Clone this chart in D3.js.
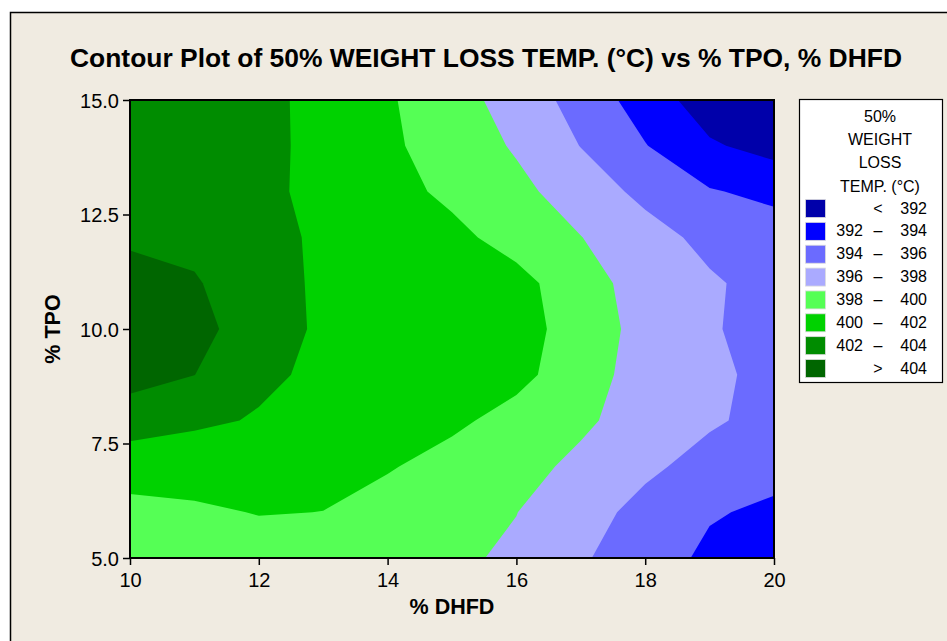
<!DOCTYPE html>
<html>
<head>
<meta charset="utf-8">
<script src="https://cdn.jsdelivr.net/npm/d3@7"></script>
<style>
  html, body { margin: 0; padding: 0; background: #ffffff; }
  svg { display: block; }
  text { font-family: "Liberation Sans", Arial, sans-serif; fill: #000; }
</style>
</head>
<body>
<svg id="chart" width="947" height="641"></svg>
<script>
// % DHFD grid columns and % TPO grid rows (top row first)
const dhfd = [10, 11, 12, 13, 14, 15, 16, 17, 18, 19, 20];
const tpo  = [15, 14, 13, 12, 11, 10, 9, 8, 7, 6, 5];

// 50% weight loss temperature (°C) on the grid, one row per TPO level
const tempTPO15 = [403.3, 403.0, 402.5, 401.46, 400.22, 398.8, 397.17, 395.24, 393.09, 390.95, 390.0];
const tempTPO14 = [403.4, 403.1, 402.55, 401.44, 400.33, 399.12, 397.79, 395.95, 394.08, 392.24, 391.3];
const tempTPO13 = [403.6, 403.3, 402.45, 401.5, 400.6, 399.63, 398.5, 397.06, 395.5, 394.15, 393.5];
const tempTPO12 = [403.8, 403.5, 402.6, 401.7, 401.01, 400.45, 399.33, 398.04, 396.76, 395.47, 395.0];
const tempTPO11 = [404.5, 404.17, 402.87, 401.65, 401.2, 400.75, 400.55, 399.0, 397.0, 396.25, 395.3];
const tempTPO10 = [404.9, 404.5, 403.2, 401.6, 401.15, 400.75, 400.45, 399.5, 397.1, 396.1, 395.6];
const tempTPO9  = [404.7, 404.02, 402.4, 401.6, 401.15, 400.7, 400.4, 399.2, 396.87, 396.3, 395.6];
const tempTPO8  = [403.0, 402.4, 401.83, 401.32, 400.81, 400.29, 399.49, 398.3, 397.23, 396.21, 395.5];
const tempTPO7  = [400.78, 400.6, 400.45, 400.3, 400.12, 399.45, 398.57, 397.62, 396.34, 395.38, 394.53];
const tempTPO6  = [399.48, 399.8, 400.05, 399.99, 399.39, 398.71, 398.03, 396.71, 395.45, 394.15, 393.7];
const tempTPO5  = [398.9, 399.3, 399.4, 399.4, 398.86, 398.32, 397.7, 396.24, 394.84, 393.65, 392.8];

// Contour levels, legend rows (low to high) and band colours
const levels = [392, 394, 396, 398, 400, 402, 404];
const bandLow  = ["", "392", "394", "396", "398", "400", "402", ""];
const bandSign = ["<", "–", "–", "–", "–", "–", "–", ">"];
const bandHigh = ["392", "394", "396", "398", "400", "402", "404", "404"];
const bandColors = ["#0000aa", "#0000ff", "#6b6bff", "#aaaaff", "#55ff55", "#00d200", "#008c00", "#006600"];

const xTicks = [10, 12, 14, 16, 18, 20];
const yTicks = [5, 7.5, 10, 12.5, 15];

const title = "Contour Plot of 50% WEIGHT LOSS TEMP. (°C) vs % TPO, % DHFD";
const legendTitle = ["50%", "WEIGHT", "LOSS", "TEMP. (°C)"];

const svg = d3.select("#chart");

// Figure panel
svg.append("rect").attr("x", 10).attr("y", 12).attr("width", 947).attr("height", 641)
  .attr("fill", "#f0ebe1");
svg.append("path").attr("d", "M10.5,641V12.5H947").attr("fill", "none")
  .attr("stroke", "#000").attr("stroke-width", 1.5);

const plot = { left: 130, right: 774, top: 100, bottom: 558 };
const x = d3.scaleLinear().domain([10, 20]).range([plot.left, plot.right]);
const y = d3.scaleLinear().domain([5, 15]).range([plot.bottom, plot.top]);

// Filled contour bands
const values = [tempTPO15, tempTPO14, tempTPO13, tempTPO12, tempTPO11, tempTPO10,
                tempTPO9, tempTPO8, tempTPO7, tempTPO6, tempTPO5].flat();
const contours = d3.contours().size([dhfd.length, tpo.length]).thresholds(levels)(values);

const gx = c => x(dhfd[0] + (c - 0.5) * (dhfd[1] - dhfd[0]));
const gy = c => y(tpo[0] + (c - 0.5) * (tpo[1] - tpo[0]));
const path = d3.geoPath(d3.geoTransform({
  point(px, py) { this.stream.point(gx(px), gy(py)); }
}));

svg.append("clipPath").attr("id", "plotClip").append("rect")
  .attr("x", plot.left).attr("y", plot.top)
  .attr("width", plot.right - plot.left).attr("height", plot.bottom - plot.top);

const bands = svg.append("g").attr("clip-path", "url(#plotClip)");
bands.append("rect")
  .attr("x", plot.left).attr("y", plot.top)
  .attr("width", plot.right - plot.left).attr("height", plot.bottom - plot.top)
  .attr("fill", bandColors[0]);
bands.selectAll("path.band").data(contours).join("path")
  .attr("class", "band")
  .attr("d", path)
  .attr("fill", (d, i) => bandColors[i + 1]);

// Plot frame
svg.append("rect")
  .attr("x", plot.left).attr("y", plot.top)
  .attr("width", plot.right - plot.left).attr("height", plot.bottom - plot.top)
  .attr("fill", "none").attr("stroke", "#000").attr("stroke-width", 2);

// Axes
const xAxis = svg.append("g").attr("transform", `translate(0,${plot.bottom})`)
  .call(d3.axisBottom(x).tickValues(xTicks).tickFormat(d3.format("d")).tickSizeOuter(0).tickSize(7).tickPadding(8));
const yAxis = svg.append("g").attr("transform", `translate(${plot.left},0)`)
  .call(d3.axisLeft(y).tickValues(yTicks).tickFormat(d3.format(".1f")).tickSizeOuter(0).tickSize(7).tickPadding(4));
[xAxis, yAxis].forEach(a => {
  a.select(".domain").remove();
  a.selectAll(".tick line").attr("stroke", "#000").attr("stroke-width", 1.5);
  a.selectAll(".tick text").style("font-family", "'Liberation Sans', Arial, sans-serif")
    .style("font-size", "20px").attr("fill", "#000");
});
yAxis.selectAll(".tick text").attr("dy", "0.36em");

// Titles
svg.append("text").attr("x", 486).attr("y", 67).attr("text-anchor", "middle")
  .attr("font-weight", "bold").attr("font-size", 25)
  .attr("textLength", 832).attr("lengthAdjust", "spacingAndGlyphs")
  .text(title);
svg.append("text").attr("x", (plot.left + plot.right) / 2).attr("y", 614)
  .attr("text-anchor", "middle").attr("font-weight", "bold").attr("font-size", 21.5)
  .text("% DHFD");
svg.append("text").attr("transform", `translate(60,${(plot.top + plot.bottom) / 2}) rotate(-90)`)
  .attr("text-anchor", "middle").attr("font-weight", "bold").attr("font-size", 21.5)
  .text("% TPO");

// Legend
const lg = svg.append("g");
lg.append("rect").attr("x", 799.5).attr("y", 99.5).attr("width", 143).attr("height", 283)
  .attr("fill", "#ffffff").attr("stroke", "#000").attr("stroke-width", 1.2);
lg.selectAll("text.lt").data(legendTitle).join("text")
  .attr("class", "lt").attr("x", 880).attr("y", (d, i) => 122 + i * 23.2)
  .attr("text-anchor", "middle").attr("font-size", 16).text(d => d);

const rowY = i => 199 + i * 22.86;
const rows = lg.selectAll("g.row").data(bandColors).join("g").attr("class", "row");
rows.append("rect").attr("x", 805.5).attr("y", (d, i) => rowY(i) + 0.5)
  .attr("width", 20).attr("height", 18)
  .attr("fill", d => d).attr("stroke", "#dcdcdc").attr("stroke-width", 0.8);
rows.append("text").attr("x", 863).attr("y", (d, i) => rowY(i) + 14.5)
  .attr("text-anchor", "end").attr("font-size", 16).text((d, i) => bandLow[i]);
rows.append("text").attr("x", 878).attr("y", (d, i) => rowY(i) + 14.5)
  .attr("text-anchor", "middle").attr("font-size", 16).text((d, i) => bandSign[i]);
rows.append("text").attr("x", 927).attr("y", (d, i) => rowY(i) + 14.5)
  .attr("text-anchor", "end").attr("font-size", 16).text((d, i) => bandHigh[i]);
</script>
</body>
</html>
